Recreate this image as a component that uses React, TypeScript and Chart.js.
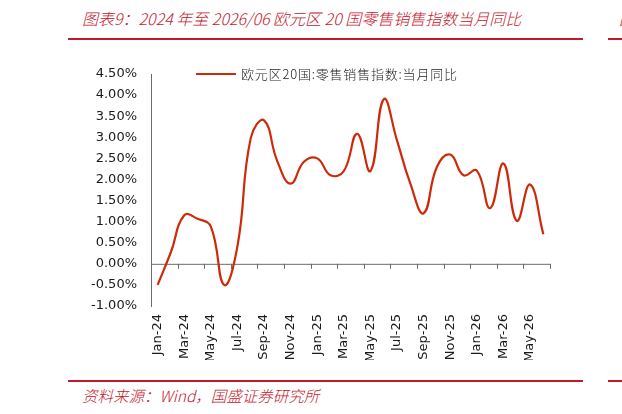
import React, { useEffect, useRef } from 'react';
import { Chart, registerables } from 'chart.js';

Chart.register(...registerables);

// months Jan-24 .. Jun-26
const months = [
  'Jan-24', 'Feb-24', 'Mar-24', 'Apr-24', 'May-24', 'Jun-24',
  'Jul-24', 'Aug-24', 'Sep-24', 'Oct-24', 'Nov-24', 'Dec-24',
  'Jan-25', 'Feb-25', 'Mar-25', 'Apr-25', 'May-25', 'Jun-25',
  'Jul-25', 'Aug-25', 'Sep-25', 'Oct-25', 'Nov-25', 'Dec-25',
  'Jan-26', 'Feb-26', 'Mar-26', 'Apr-26', 'May-26', 'Jun-26',
];

// 欧元区20国:零售销售指数:当月同比 (%)
const retailYoY = [
  -0.50, 0.28, 1.15, 1.07, 0.88, -0.50,
  0.42, 2.98, 3.40, 2.43, 1.90, 2.42,
  2.50, 2.10, 2.20, 3.08, 2.20, 3.90,
  2.92, 1.90, 1.20, 2.30, 2.59, 2.10,
  2.21, 1.32, 2.38, 1.02, 1.88, 0.70,
];

const seriesName = '欧元区20国:零售销售指数:当月同比';
const yMin = -1;
const yMax = 4.5;
const yStep = 0.5;

const RED = '#C3172D';
const LINE = '#CC2A0A';
const AXIS = '#6b6b6b';
const cjk = '"Noto Sans CJK SC", "Noto Sans", sans-serif';
const tickFont = { family: '"DejaVu Sans", sans-serif', size: 13 };

// zero axis line + tick marks every two months
const zeroAxis = {
  id: 'zeroAxis',
  beforeDatasetsDraw(chart: any) {
    const { ctx, chartArea, scales } = chart;
    const x = scales.x;
    const y0 = scales.y.getPixelForValue(0);
    const x0 = x.getPixelForValue(0);
    const step = x.getPixelForValue(1) - x0;
    ctx.save();
    ctx.strokeStyle = AXIS;
    ctx.lineWidth = 1;
    ctx.beginPath();
    ctx.moveTo(chartArea.left, y0 + 0.5);
    ctx.lineTo(chartArea.right, y0 + 0.5);
    for (let i = 0; i <= months.length; i += 2) {
      const px = Math.round(x0 + step * (i - 0.5)) + 0.5;
      ctx.moveTo(px, y0);
      ctx.lineTo(px, y0 + 5);
    }
    ctx.stroke();
    ctx.restore();
  },
};

const LineChart = () => {
  const ref = useRef<HTMLCanvasElement | null>(null);

  useEffect(() => {
    const ctx = ref.current?.getContext('2d');
    if (!ctx) return;
    const chart = new Chart(ctx, {
      type: 'line',
      data: {
        labels: months,
        datasets: [{
          label: seriesName,
          data: retailYoY,
          borderColor: LINE,
          borderWidth: 2.2,
          pointRadius: 0,
          tension: 0.45,
          fill: false,
        }],
      },
      options: {
        animation: false,
        responsive: false,
        maintainAspectRatio: false,
        layout: { padding: { left: 0, right: 72, top: 24, bottom: 0 } },
        plugins: {
          legend: { display: false },
          tooltip: { enabled: false },
        },
        scales: {
          x: {
            offset: true,
            grid: { display: false, drawTicks: false },
            border: { display: false },
            ticks: {
              autoSkip: false,
              minRotation: 90,
              maxRotation: 90,
              padding: 8,
              color: '#1a1a1a',
              font: tickFont,
              callback: (_v: any, i: number) => (i % 2 === 0 ? months[i] : ''),
            },
            afterFit: (s: any) => { s.height = 54; },
          },
          y: {
            min: yMin,
            max: yMax,
            grid: { display: false, drawTicks: false },
            border: { display: true, color: AXIS, width: 1 },
            ticks: {
              stepSize: yStep,
              padding: 14,
              color: '#1a1a1a',
              font: tickFont,
              callback: (v: any) => Number(v).toFixed(2) + '%',
            },
            afterFit: (s: any) => { s.width = 151; },
          },
        },
      },
      plugins: [zeroAxis],
    });
    return () => chart.destroy();
  }, []);

  return <canvas ref={ref} width={622} height={310} style={{ position: 'absolute', left: 0, top: 50 }} />;
};

export default function App() {
  const titleStyle: React.CSSProperties = {
    position: 'absolute', top: 7, left: 82, fontFamily: cjk, fontSize: 16, fontWeight: 300,
    fontStyle: 'italic', color: RED, whiteSpace: 'nowrap', lineHeight: '22px',
  };
  const rule = (top: number, left: number, width: number): React.CSSProperties => ({
    position: 'absolute', top, left, width, height: 2, background: RED,
  });
  return (
    <div style={{ position: 'absolute', left: 0, top: 0, width: 622, height: 414, overflow: 'hidden', background: '#fff' }}>
      <div style={titleStyle}>图表9：2024 年至 2026/06 欧元区 20 国零售销售指数当月同比</div>
      <div style={{ ...titleStyle, left: 619 }}>图</div>
      <div style={rule(38, 68, 515)} />
      <div style={rule(38, 608, 14)} />
      <LineChart />
      <div style={{ position: 'absolute', left: 196, top: 73, width: 40, height: 2, background: LINE }} />
      <div style={{ position: 'absolute', left: 241, top: 65, fontFamily: cjk, fontSize: 13, fontWeight: 300, letterSpacing: 0.8, lineHeight: '18px', color: '#222', whiteSpace: 'nowrap' }}>
        {seriesName}
      </div>
      <div style={rule(380, 68, 515)} />
      <div style={rule(380, 608, 14)} />
      <div style={{ ...titleStyle, top: 384, fontSize: 15.5 }}>资料来源：Wind，国盛证券研究所</div>
    </div>
  );
}
